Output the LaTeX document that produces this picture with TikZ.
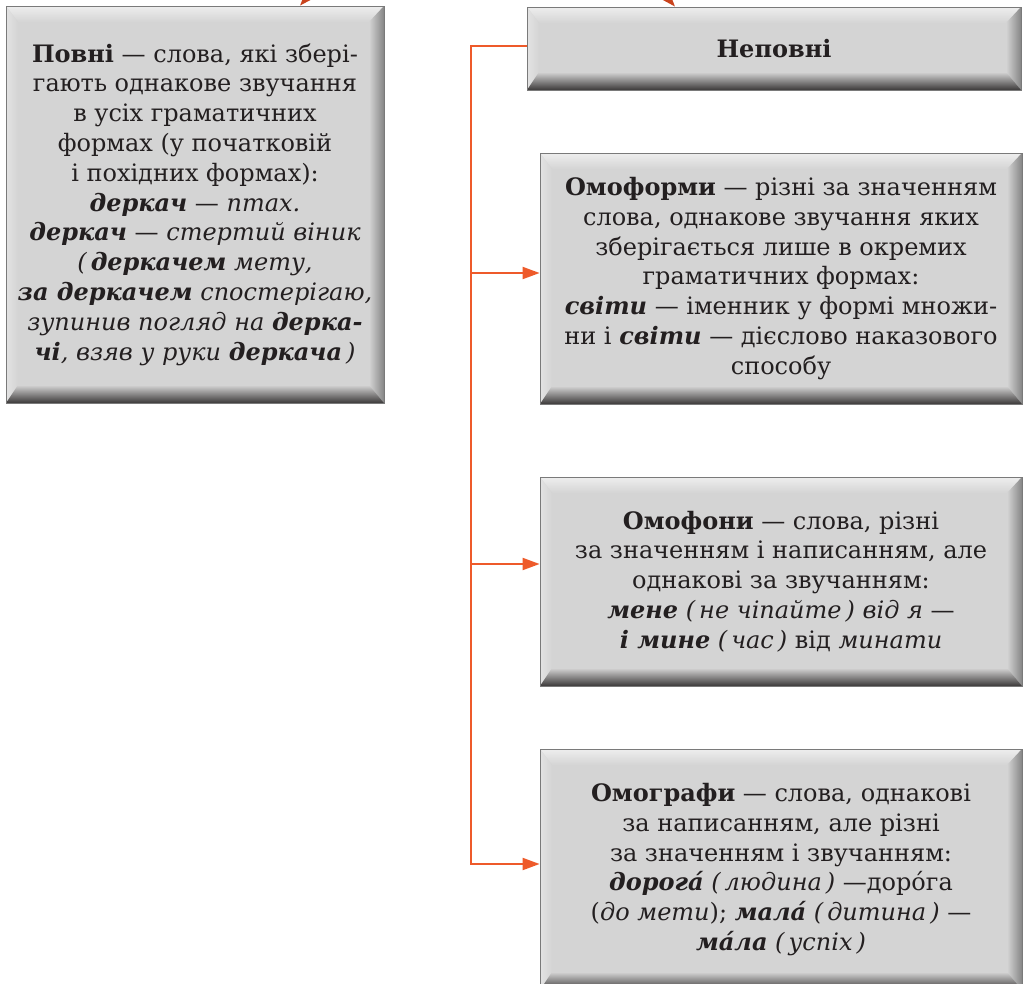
\documentclass[tikz,border=0pt]{standalone}
\usepackage{fontspec}
\setmainfont{DejaVu Serif}
\usetikzlibrary{calc,arrows.meta}
\definecolor{face}{HTML}{D4D4D4}
\definecolor{edgegray}{HTML}{7A7A7A}
\definecolor{txt}{HTML}{231F20}
\definecolor{orline}{HTML}{EE5A2A}
\definecolor{ortip}{HTML}{C9431D}
\definecolor{toplight}{HTML}{EEEEEE}
\definecolor{leftlight}{HTML}{E3E3E3}
\definecolor{rightdark}{HTML}{858585}
\definecolor{bottomdark}{HTML}{3B3939}
\tikzset{
  bevel/.style={draw=edgegray, line width=0.8pt, fill=face, align=center,
    inner sep=0pt, text=txt, font=\fontsize{24}{29.8}\selectfont,
    path picture={
      \path (path picture bounding box.north west) coordinate (@nw)
            (path picture bounding box.north east) coordinate (@ne)
            (path picture bounding box.south west) coordinate (@sw)
            (path picture bounding box.south east) coordinate (@se);
      \path ($(@nw)+(12,16)$) coordinate (@inw)
            ($(@ne)+(-15,16)$) coordinate (@ine)
            ($(@sw)+(12,-18)$) coordinate (@isw)
            ($(@se)+(-15,-18)$) coordinate (@ise);
      \shade[top color=toplight, bottom color=face] (@nw) -- (@ne) -- (@ine) -- (@inw) -- cycle;
      \shade[left color=leftlight, right color=face] (@nw) -- (@inw) -- (@isw) -- (@sw) -- cycle;
      \shade[left color=face, right color=rightdark] (@ne) -- (@ine) -- (@ise) -- (@se) -- cycle;
      \shade[top color=face, bottom color=bottomdark] (@sw) -- (@isw) -- (@ise) -- (@se) -- cycle;
    }},
  orarrow/.style={draw=orline, line width=2pt, -{Triangle[length=17pt,width=12pt,fill=orline]}},
  topdart/.style={draw=ortip, line width=2pt, -{Triangle[length=17pt,width=12pt,fill=ortip]}}
}
\begin{document}
\begin{tikzpicture}[x=1pt,y=-1pt]
\clip (0,0) rectangle (1023,983);
\fill[white] (0,0) rectangle (1023,983);

\node[bevel, minimum width=378pt, minimum height=397pt] (povni) at (195,204.5) {%
\textbf{Повні} — слова, які збері-\\
гають однакове звучання\\
в усіх граматичних\\
формах (у початковій\\
і похідних формах):\\
\textbf{\textit{деркач}} — \textit{птах.}\\
\textbf{\textit{деркач}} — \textit{стертий віник}\\
\textit{(\,\textbf{деркачем} мету,}\\
\textbf{\textit{за деркачем}} \textit{спостерігаю,}\\
\textit{зупинив погляд на \textbf{дерка-}}\\
\textit{\textbf{чі}, взяв у руки \textbf{деркача}\,)}};

\node[bevel, minimum width=494pt, minimum height=83pt] (nepovni) at (774,48.5) {\textbf{Неповні}};

\node[bevel, minimum width=482pt, minimum height=251pt] (omoformy) at (781,278.5) {%
\textbf{Омоформи} — різні за значенням\\
слова, однакове звучання яких\\
зберігається лише в окремих\\
граматичних формах:\\
\textbf{\textit{світи}} — іменник у формі множи-\\
ни і \textbf{\textit{світи}} — дієслово наказового\\
способу};

\node[bevel, minimum width=482pt, minimum height=209pt] (omofony) at (781,581.5) {%
\textbf{Омофони} — слова, різні\\
за значенням і написанням, але\\
однакові за звучанням:\\
\textbf{\textit{мене}} \textit{(\,не чіпайте\,) від я} —\\
\textbf{\textit{і мине}} \textit{(\,час\,)} від \textit{минати}};

\node[bevel, minimum width=482pt, minimum height=241pt] (omohrafy) at (781,869.5) {%
\textbf{Омографи} — слова, однакові\\
за написанням, але різні\\
за значенням і звучанням:\\
\textbf{\textit{дорога́}} \textit{(\,людина\,)} —доро́га\\
(\textit{до мети}); \textbf{\textit{мала́}} \textit{(\,дитина\,)} —\\
\textbf{\textit{ма́ла}} \textit{(\,успіх\,)}};

% trunk and branches
\coordinate (j0) at ($(nepovni.west)+(0,-2.5)$);
\coordinate (j1) at (471,273);
\coordinate (j2) at (471,564);
\coordinate (j3) at (471,864);
\draw[orarrow] (j0) -| (j3) -- (j3 -| omohrafy.west);
\draw[orarrow] (j1) -- (j1 -| omoformy.west);
\draw[orarrow] (j2) -- (j2 -| omofony.west);

% incoming arrows cut by the top edge
\coordinate (s1) at (345,-45);
\coordinate (e1) at ($(povni.north)+(105,0)$);
\coordinate (s2) at (630,-45);
\coordinate (e2) at ($(nepovni.north)+(-99,0)$);
\draw[topdart] (s1) -- (e1);
\draw[topdart] (s2) -- (e2);
\end{tikzpicture}
\end{document}
